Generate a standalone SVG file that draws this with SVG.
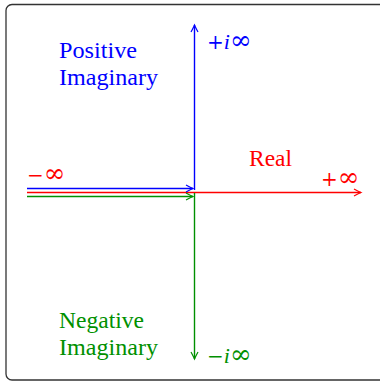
<svg xmlns="http://www.w3.org/2000/svg" width="380" height="381" viewBox="0 0 380 381">
<style>
.t{font-family:"Liberation Serif","Times New Roman",serif;font-size:23.5px}
.m{font-family:"DejaVu Serif","Liberation Serif",serif;font-size:20px}
.i{font-family:"Liberation Serif",serif;font-style:italic;font-size:22px}
.inf{font-size:26px}
.b{fill:#0000ff}.r{fill:#ff0000}.g{fill:#009000}
.ln{fill:none;stroke-width:1.4}
</style>
<defs>
<marker id="ab" viewBox="-8 -5 10 10" refX="0" refY="0" markerWidth="10" markerHeight="10" markerUnits="userSpaceOnUse" orient="auto"><path d="M-7,-3.5 Q-2,-0.8 0,0 Q-2,0.8 -7,3.5" fill="none" stroke="#0000ff" stroke-width="1.2"/></marker>
<marker id="ar" viewBox="-8 -5 10 10" refX="0" refY="0" markerWidth="10" markerHeight="10" markerUnits="userSpaceOnUse" orient="auto"><path d="M-7,-3.5 Q-2,-0.8 0,0 Q-2,0.8 -7,3.5" fill="none" stroke="#ff0000" stroke-width="1.2"/></marker>
<marker id="ag" viewBox="-8 -5 10 10" refX="0" refY="0" markerWidth="10" markerHeight="10" markerUnits="userSpaceOnUse" orient="auto"><path d="M-7,-3.5 Q-2,-0.8 0,0 Q-2,0.8 -7,3.5" fill="none" stroke="#009000" stroke-width="1.2"/></marker>
</defs>
<rect x="6" y="4.5" width="380" height="375.5" rx="6" fill="#fff" stroke="#333" stroke-width="1.3"/>
<g id="connectors">
<path class="ln" stroke="#ff0000" d="M27,192.5 H361" marker-end="url(#ar)"/>
<path class="ln" stroke="#0000ff" d="M27,188.5 H193" marker-end="url(#ab)"/>
<path class="ln" stroke="#009000" d="M27,196.5 H193" marker-end="url(#ag)"/>
<path class="ln" stroke="#0000ff" d="M194.5,190 V25" marker-end="url(#ab)"/>
<path class="ln" stroke="#009000" d="M194.5,193 V359" marker-end="url(#ag)"/>
</g>
<g id="positive"><text class="t b" x="59" y="58" textLength="78" lengthAdjust="spacingAndGlyphs">Positive</text><text class="t b" x="59" y="85" textLength="99" lengthAdjust="spacingAndGlyphs">Imaginary</text></g>
<g id="negative"><text class="t g" x="59" y="328" textLength="85" lengthAdjust="spacingAndGlyphs">Negative</text><text class="t g" x="59" y="355" textLength="99" lengthAdjust="spacingAndGlyphs">Imaginary</text></g>
<g id="real"><text class="t r" x="249" y="166" textLength="43" lengthAdjust="spacingAndGlyphs">Real</text></g>
<g id="labels">
<text class="m r" x="27" y="182">−<tspan class="inf">∞</tspan></text>
<text class="m r" x="321" y="186">+<tspan class="inf">∞</tspan></text>
<text class="m b" x="207" y="49">+<tspan class="i">i</tspan><tspan class="inf">∞</tspan></text>
<text class="m g" x="207" y="363">−<tspan class="i">i</tspan><tspan class="inf">∞</tspan></text>
</g>
</svg>
